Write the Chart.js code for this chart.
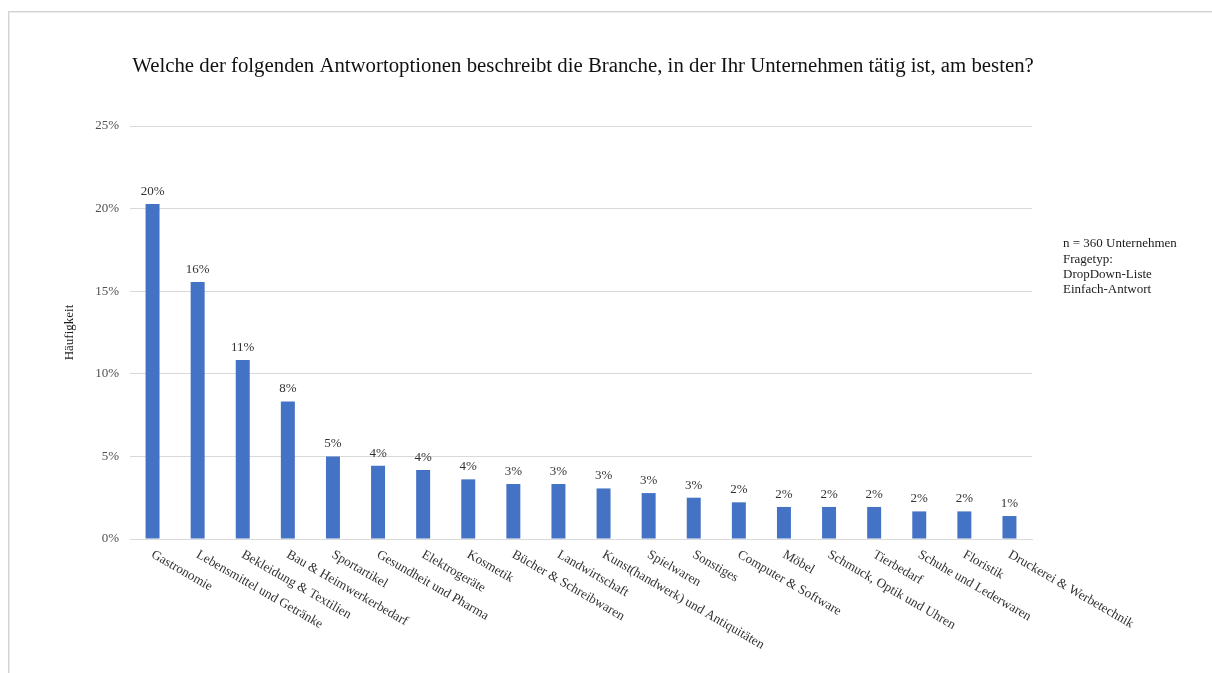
<!DOCTYPE html>
<html>
<head>
<meta charset="utf-8">
<script src="https://cdn.jsdelivr.net/npm/chart.js@4.4.1/dist/chart.umd.min.js"></script>
<style>
  html, body { margin: 0; padding: 0; background: #ffffff; }
  #wrap { position: relative; width: 1212px; height: 673px; overflow: hidden; background: #ffffff; }
  #frame { position: absolute; left: 8px; top: 11px; right: -4px; bottom: -4px;
           border-top: 1px solid #d2d2d2; border-left: 1px solid #d2d2d2;
           box-shadow: inset 1px 1px 0 #ececec; }
  #c { position: absolute; left: 0; top: 0; }
</style>
</head>
<body>
<div id="wrap">
  <div id="frame"></div>
  <canvas id="c" width="1212" height="673"></canvas>
</div>
<script>
// Branchen der befragten Unternehmen (Anteil in %)
const categories = [
  'Gastronomie',
  'Lebensmittel und Getränke',
  'Bekleidung & Textilien',
  'Bau & Heimwerkerbedarf',
  'Sportartikel',
  'Gesundheit und Pharma',
  'Elektrogeräte',
  'Kosmetik',
  'Bücher & Schreibwaren',
  'Landwirtschaft',
  'Kunst(handwerk) und Antiquitäten',
  'Spielwaren',
  'Sonstiges',
  'Computer & Software',
  'Möbel',
  'Schmuck, Optik und Uhren',
  'Tierbedarf',
  'Schuhe und Lederwaren',
  'Floristik',
  'Druckerei & Werbetechnik'
];
const shares = [20.28, 15.56, 10.83, 8.33, 5.00, 4.44, 4.17, 3.61, 3.33, 3.33,
                3.06, 2.78, 2.50, 2.22, 1.94, 1.94, 1.94, 1.67, 1.67, 1.39];
const yTicks = [0, 5, 10, 15, 20, 25];

const titleText = 'Welche der folgenden Antwortoptionen beschreibt die Branche, in der Ihr Unternehmen tätig ist, am besten?';
const axisTitle = 'Häufigkeit';
const noteLines = ['n = 360 Unternehmen', 'Fragetyp:', 'DropDown-Liste', 'Einfach-Antwort'];

const SERIF = '"Liberation Serif", "DejaVu Serif", serif';
const BAR_BLUE = '#4472C4';
const TEXT_GREY = '#333333';
const TICK_GREY = '#505050';

// Title, value labels, slanted category labels and the side note
const overlay = {
  id: 'overlay',
  afterDraw(chart) {
    const ctx = chart.ctx;
    const xs = chart.scales.x;
    const area = chart.chartArea;
    ctx.save();

    // title
    ctx.fillStyle = '#111111';
    ctx.font = '20.8px ' + SERIF;
    ctx.textAlign = 'center';
    ctx.textBaseline = 'middle';
    ctx.fillText(titleText, 583, 67);

    // value labels above the bars
    const meta = chart.getDatasetMeta(0);
    ctx.font = '13px ' + SERIF;
    ctx.fillStyle = TEXT_GREY;
    ctx.textAlign = 'center';
    ctx.textBaseline = 'bottom';
    meta.data.forEach((bar, i) => {
      ctx.fillText(Math.round(shares[i]) + '%', bar.x, bar.y - 6);
    });

    // slanted category labels, starting at each tick and running down to the right
    ctx.font = '13.2px ' + SERIF;
    ctx.fillStyle = TEXT_GREY;
    ctx.textAlign = 'left';
    ctx.textBaseline = 'top';
    const angle = 30 * Math.PI / 180;
    categories.forEach((label, i) => {
      const x = xs.getPixelForValue(i);
      ctx.save();
      ctx.translate(x + 3, area.bottom + 9);
      ctx.rotate(angle);
      ctx.fillText(label, 0, 0);
      ctx.restore();
    });

    // note on the right
    ctx.font = '13px ' + SERIF;
    ctx.fillStyle = '#1a1a1a';
    ctx.textAlign = 'left';
    ctx.textBaseline = 'middle';
    noteLines.forEach((line, i) => {
      ctx.fillText(line, 1063, 244 + i * 15.2);
    });

    ctx.restore();
  }
};

new Chart(document.getElementById('c'), {
  type: 'bar',
  data: {
    labels: categories,
    datasets: [{
      data: shares,
      backgroundColor: BAR_BLUE,
      borderWidth: 0,
      categoryPercentage: 1.0,
      barPercentage: 0.31
    }]
  },
  options: {
    responsive: false,
    animation: false,
    devicePixelRatio: 1,
    layout: { padding: { left: 0, right: 180, top: 126, bottom: 0 } },
    plugins: {
      legend: { display: false },
      title: { display: false },
      tooltip: { enabled: false }
    },
    scales: {
      x: {
        grid: { display: false, drawTicks: false },
        border: { display: true, color: '#d9d9d9', width: 1 },
        ticks: { display: false },
        afterFit(scale) { scale.height = 134; }
      },
      y: {
        min: 0,
        max: 25,
        afterBuildTicks(scale) { scale.ticks = yTicks.map(v => ({ value: v })); },
        grid: { color: '#d9d9d9', lineWidth: 1, drawTicks: false },
        border: { display: false },
        ticks: {
          padding: 11,
          color: TICK_GREY,
          font: { family: SERIF, size: 13 },
          callback: v => v + '%'
        },
        title: {
          display: true,
          text: axisTitle,
          color: '#1a1a1a',
          font: { family: SERIF, size: 13 },
          padding: { top: 62, bottom: 0 }
        },
        afterFit(scale) { scale.width = 130; }
      }
    }
  },
  plugins: [overlay]
});
</script>
</body>
</html>
